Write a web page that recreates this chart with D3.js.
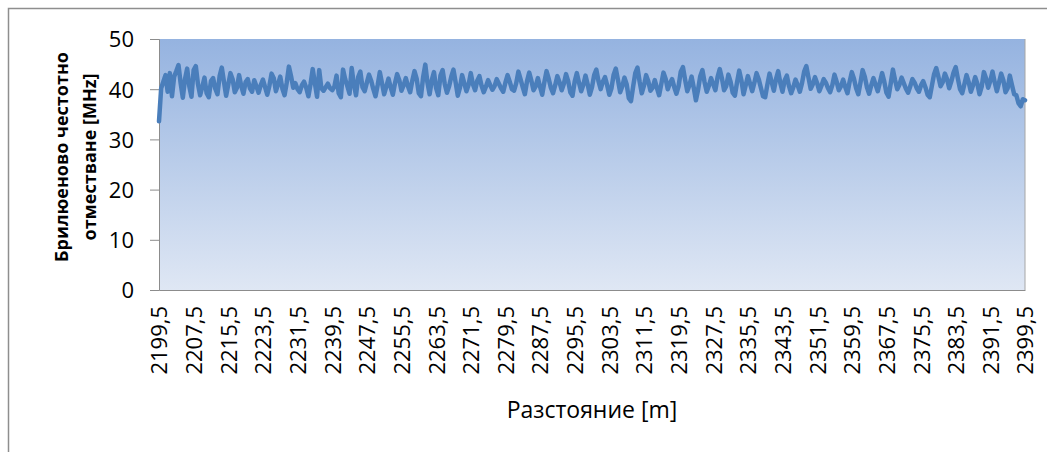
<!DOCTYPE html>
<html>
<head>
<meta charset="utf-8">
<script src="https://cdn.jsdelivr.net/npm/d3@7"></script>
<style>
  body { margin: 0; background: #fff; }
  svg text { font-family: "Open Sans", "Noto Sans", sans-serif; fill: #000; }
</style>
</head>
<body>
<div id="chart"></div>
<script>
// distance axis: 2199.5 .. 2399.5 m, step 0.5 m
const startDistance = 2199.5;
const stepDistance = 0.5;

// Brillouin frequency shift [MHz]
const shiftValues = [
  33.6, 40.2, 41.5, 42.8, 39.5, 43.2, 38.6, 42.5, 43.6, 44.8, 41.2, 38.3, 42.0, 44.1, 40.6, 38.5, 43.8, 44.6, 41.0, 38.8,
  40.5, 42.3, 39.2, 38.4, 41.6, 42.2, 40.1, 39.0, 42.6, 44.3, 41.5, 38.7, 40.9, 43.2, 42.0, 39.4, 40.3, 42.8, 40.6, 39.1,
  41.4, 42.0, 40.2, 39.5, 41.8, 40.6, 39.3, 40.8, 41.9, 40.4, 38.9, 40.7, 43.1, 42.2, 39.6, 41.0, 42.5, 40.1, 38.8, 41.3,
  44.5, 42.6, 40.3, 41.2, 40.0, 39.4, 40.8, 41.5, 40.3, 38.6, 41.0, 44.0, 41.2, 38.5, 43.8, 40.2, 39.7, 40.4, 41.1, 40.2,
  39.8, 40.5, 42.7, 39.2, 38.4, 43.9, 42.0, 40.6, 39.1, 44.2, 41.0, 38.8, 42.4, 43.5, 40.4, 39.6, 41.3, 42.9, 41.7, 40.0,
  38.6, 40.8, 43.4, 41.2, 39.0, 40.5, 42.1, 40.4, 38.9, 41.2, 43.0, 41.8, 39.7, 40.8, 42.2, 40.6, 39.4, 41.7, 43.6, 42.1,
  39.2, 38.6, 42.4, 44.9, 41.3, 39.0, 41.8, 43.4, 40.2, 38.8, 42.7, 43.8, 41.0, 39.3, 40.6, 42.5, 43.9, 41.4, 38.7, 40.3,
  42.8, 41.2, 39.6, 40.9, 43.2, 41.0, 39.8, 41.7, 42.6, 40.7, 39.4, 40.5, 41.8, 40.8, 39.9, 40.6, 42.0, 41.1, 40.2, 39.5,
  41.3, 42.8, 41.5, 40.0, 39.7, 41.2, 43.5, 42.0, 40.4, 39.0, 41.6, 43.3, 41.7, 39.8, 40.6, 42.2, 40.5, 38.9, 41.4, 43.6,
  42.1, 40.3, 39.2, 40.8, 42.6, 41.4, 39.8, 41.1, 43.0, 41.6, 39.4, 38.7, 41.5, 43.2, 41.3, 39.6, 40.9, 42.7, 41.0, 38.9,
  40.4, 42.8, 43.9, 41.6, 40.0, 41.5, 42.4, 40.8, 38.9, 40.2, 42.9, 44.1, 41.8, 39.4, 40.6, 42.3, 41.0, 38.2, 37.6, 40.5,
  43.2, 44.3, 41.5, 39.2, 40.7, 42.8, 41.6, 39.7, 40.3, 41.8, 40.2, 38.8, 41.0, 43.3, 42.1, 40.0, 41.2, 42.0, 40.4, 39.1,
  40.6, 43.5, 44.4, 41.9, 39.6, 40.8, 42.5, 40.3, 37.8, 39.9, 42.6, 43.8, 41.4, 39.5, 40.7, 42.2, 41.0, 39.8, 42.4, 44.0,
  42.2, 39.8, 40.6, 42.9, 41.5, 39.3, 38.7, 41.4, 43.7, 41.8, 39.0, 40.8, 42.6, 41.1, 39.6, 41.3, 43.2, 42.0, 40.3, 38.6,
  38.4, 40.9, 43.1, 41.4, 39.7, 42.0, 43.6, 41.2, 39.5, 41.8, 42.7, 40.6, 39.2, 40.4, 41.9, 40.8, 39.5, 41.2, 43.5, 44.6,
  42.3, 40.1, 41.0, 42.4, 41.2, 39.6, 40.7, 42.0, 41.3, 40.2, 39.4, 40.8, 42.9, 41.5, 39.8, 40.6, 41.9, 40.4, 39.2, 41.5,
  43.4, 42.1, 40.2, 39.0, 41.3, 43.8, 42.5, 40.4, 39.1, 40.8, 42.2, 40.9, 39.6, 41.4, 43.2, 41.5, 39.3, 38.5, 41.2, 43.9,
  41.8, 40.0, 40.9, 42.3, 41.2, 40.1, 39.3, 40.6, 42.0, 41.3, 40.2, 39.5, 40.8, 41.6, 40.4, 38.9, 38.4, 40.7, 43.0, 44.2,
  42.5, 40.6, 41.4, 43.1, 42.0, 40.2, 41.6, 43.3, 44.4, 42.1, 40.0, 39.2, 41.0, 42.8, 41.4, 39.5, 40.8, 42.4, 41.1, 39.0,
  40.5, 43.4, 42.2, 40.3, 41.7, 43.5, 41.4, 39.6, 41.3, 43.1, 41.8, 39.4, 40.2, 42.7, 40.8, 39.0, 38.8, 37.2, 36.6, 38.0,
  37.8
];

// category labels shown every 8 m
const labelEvery = 16;
const yTicks = [0, 10, 20, 30, 40, 50];

const distances = shiftValues.map((_, i) => startDistance + i * stepDistance);
const data = distances.map((d, i) => ({ distance: d, shift: shiftValues[i] }));
const fmt = d => String(d).replace(".", ",");

const width = 1047, height = 452;
const margin = { left: 159, right: 22, top: 39, bottom: 162 };

const svg = d3.select("#chart").append("svg")
  .attr("width", width)
  .attr("height", height);

// outer chart frame
svg.append("path")
  .attr("d", `M8.5,${height} V8.5 H${width}`)
  .attr("fill", "none")
  .attr("stroke", "#8e8e8e")
  .attr("stroke-width", 1.5);

const x = d3.scalePoint()
  .domain(distances)
  .range([margin.left, width - margin.right]);

const y = d3.scaleLinear()
  .domain([0, 50])
  .range([height - margin.bottom, margin.top]);

// plot area gradient
const grad = svg.append("defs").append("linearGradient")
  .attr("id", "bg")
  .attr("x1", 0).attr("y1", 0).attr("x2", 0).attr("y2", 1);
grad.append("stop").attr("offset", "0%").attr("stop-color", "#95b3e0");
grad.append("stop").attr("offset", "100%").attr("stop-color", "#dfe7f4");

svg.append("rect")
  .attr("x", margin.left)
  .attr("y", margin.top)
  .attr("width", width - margin.right - margin.left)
  .attr("height", y(0) - y(50))
  .attr("fill", "url(#bg)");

// right edge of plot area
svg.append("line")
  .attr("x1", width - margin.right).attr("x2", width - margin.right)
  .attr("y1", margin.top).attr("y2", y(0))
  .attr("stroke", "#a6a6a6");

// y axis
const yAxis = svg.append("g")
  .attr("transform", `translate(${margin.left},0)`)
  .call(d3.axisLeft(y).tickValues(yTicks).tickSize(9).tickPadding(16));
yAxis.select(".domain").attr("stroke", "#8c8c8c");
yAxis.selectAll(".tick line").attr("stroke", "#8c8c8c");
yAxis.selectAll("text").style("font-size", "22px").attr("dy", "0.36em");

// x axis
const xAxis = svg.append("g")
  .attr("transform", `translate(0,${y(0)})`)
  .call(d3.axisBottom(x)
    .tickValues(distances.filter((_, i) => i % labelEvery === 0))
    .tickFormat(fmt)
    .tickSize(0));
xAxis.select(".domain").attr("stroke", "#8c8c8c");
xAxis.selectAll("text")
  .style("font-size", "22px")
  .attr("transform", "rotate(-90)")
  .attr("text-anchor", "end")
  .attr("x", -16)
  .attr("y", 0)
  .attr("dy", "0.36em");

// data line
const line = d3.line()
  .x(d => x(d.distance))
  .y(d => y(d.shift));

svg.append("path")
  .datum(data)
  .attr("d", line)
  .attr("fill", "none")
  .attr("stroke", "#4a7ebb")
  .attr("stroke-width", 4.5)
  .attr("stroke-linejoin", "round")
  .attr("stroke-linecap", "round");

// axis titles
const yTitle = svg.append("text")
  .attr("transform", `translate(68,157) rotate(-90)`)
  .attr("text-anchor", "middle")
  .style("font-size", "18px")
  .style("font-weight", "bold");
yTitle.append("tspan").attr("x", 0).attr("dy", 0).text("Брилюеново честотно");
yTitle.append("tspan").attr("x", 0).attr("dy", 28).text("отместване [MHz]");

svg.append("text")
  .attr("x", 592)
  .attr("y", 418)
  .attr("text-anchor", "middle")
  .style("font-size", "23px")
  .text("Разстояние [m]");
</script>
</body>
</html>
